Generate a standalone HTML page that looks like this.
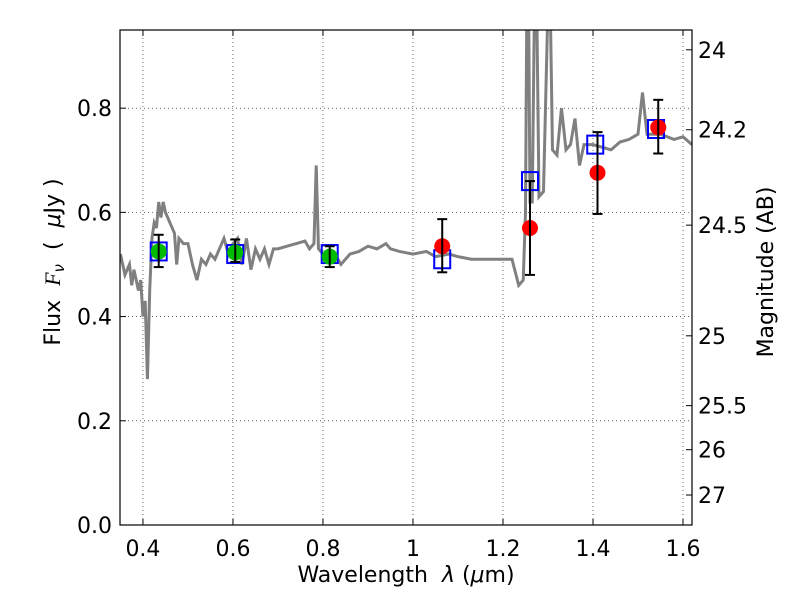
<!DOCTYPE html>
<html><head><meta charset="utf-8"><style>
body{margin:0;background:#fff;}
svg text{font-family:"DejaVu Sans","Liberation Sans",sans-serif;fill:#000;}
</style></head><body>
<svg id="chart" width="800" height="600" viewBox="0 0 800 600"></svg>
<script>
const xTicks=[0.4,0.6,0.8,1.0,1.2,1.4,1.6];
const xTickLabels=["0.4","0.6","0.8","1","1.2","1.4","1.6"];
const yTicks=[0,0.2,0.4,0.6,0.8];
const yTickLabels=["0.0","0.2","0.4","0.6","0.8"];
const magTicks=[24,24.2,24.5,25,25.5,26,27];
const magTickLabels=["24","24.2","24.5","25","25.5","26","27"];
const specLam=[0.35,0.36,0.37,0.375,0.38,0.39,0.395,0.40,0.405,0.41,0.415,0.42,0.425,0.43,0.435,0.44,0.445,0.45,0.46,0.47,0.475,0.48,0.49,0.50,0.51,0.52,0.53,0.54,0.55,0.56,0.57,0.58,0.59,0.60,0.61,0.62,0.63,0.64,0.65,0.66,0.67,0.68,0.69,0.70,0.72,0.74,0.76,0.77,0.78,0.785,0.79,0.80,0.83,0.84,0.86,0.88,0.90,0.92,0.94,0.95,0.97,1.0,1.03,1.05,1.08,1.1,1.13,1.15,1.18,1.2,1.22,1.235,1.245,1.25,1.253,1.257,1.26,1.265,1.27,1.275,1.28,1.29,1.30,1.305,1.31,1.32,1.33,1.34,1.35,1.36,1.37,1.38,1.40,1.42,1.44,1.46,1.48,1.50,1.51,1.52,1.55,1.58,1.60,1.62];
const specFlux=[0.52,0.48,0.50,0.46,0.49,0.45,0.47,0.40,0.43,0.28,0.45,0.55,0.58,0.57,0.62,0.59,0.62,0.60,0.58,0.56,0.50,0.55,0.54,0.54,0.50,0.47,0.51,0.50,0.52,0.51,0.53,0.55,0.52,0.54,0.55,0.50,0.55,0.49,0.53,0.51,0.53,0.50,0.53,0.53,0.535,0.54,0.545,0.53,0.54,0.69,0.53,0.52,0.515,0.50,0.52,0.525,0.535,0.53,0.54,0.53,0.525,0.52,0.525,0.515,0.52,0.515,0.51,0.51,0.51,0.51,0.51,0.46,0.47,0.6,1.0,1.0,0.62,0.62,1.0,1.0,0.63,0.64,1.0,1.0,0.72,0.71,0.80,0.72,0.73,0.78,0.69,0.73,0.73,0.725,0.72,0.735,0.74,0.75,0.83,0.75,0.75,0.74,0.745,0.73];
const modelLam=[0.435,0.605,0.815,1.065,1.26,1.405,1.54];
const modelFlux=[0.525,0.52,0.52,0.51,0.66,0.73,0.76];
const greenLam=[0.435,0.605,0.815];
const greenFlux=[0.525,0.523,0.515];
const greenLo=[0.495,0.505,0.495];
const greenHi=[0.557,0.548,0.535];
const redLam=[1.065,1.26,1.41,1.545];
const redFlux=[0.535,0.57,0.676,0.763];
const redLo=[0.485,0.48,0.597,0.713];
const redHi=[0.587,0.66,0.754,0.816];

const L=120,R=692,T=30,B=525,X0=0.349,X1=1.62,Y0=0,Y1=0.95;
const sx=v=>L+(v-X0)/(X1-X0)*(R-L);
const sy=v=>B-(v-Y0)/(Y1-Y0)*(B-T);
const magY=m=>sy(Math.pow(10,(23.9-m)/2.5));
const svg=document.getElementById('chart');
const NS='http://www.w3.org/2000/svg';
function mk(tag,attrs,parent){const e=document.createElementNS(NS,tag);for(const k in attrs)e.setAttribute(k,attrs[k]);(parent||svg).appendChild(e);return e;}
const defs=mk('defs',{});const cp=mk('clipPath',{id:'clip'},defs);mk('rect',{x:L,y:T,width:R-L,height:B-T},cp);

const grid=mk('g',{});


xTicks.forEach((v,i)=>{
  const l=mk('line',{x1:sx(v),x2:sx(v),y1:T,y2:B,stroke:'#000','stroke-width':0.6,'stroke-dasharray':'1,3'},grid);
  
  
  mk('line',{x1:sx(v),x2:sx(v),y1:B,y2:B-6,stroke:'#000'},grid);
  mk('line',{x1:sx(v),x2:sx(v),y1:T,y2:T+6,stroke:'#000'},grid);
  const t=mk('text',{x:sx(v),y:B+31,'font-size':22,'text-anchor':'middle'});
  t.textContent=xTickLabels[i];
  
  
});
yTicks.forEach((v,i)=>{
  const l=mk('line',{x1:L,x2:R,y1:sy(v),y2:sy(v),stroke:'#000','stroke-width':0.6,'stroke-dasharray':'1,3'},grid);
  
  
  mk('line',{x1:L,x2:L+6,y1:sy(v),y2:sy(v),stroke:'#000'},grid);
  const t=mk('text',{x:L-8,y:sy(v)+8,'font-size':22,'text-anchor':'end'});
  t.textContent=yTickLabels[i];
  
  
});
magTicks.forEach((m,i)=>{
  mk('line',{x1:R,x2:R-6,y1:magY(m),y2:magY(m),stroke:'#000'});
  const t=mk('text',{x:R+6,y:magY(m)+8,'font-size':22});
  t.textContent=magTickLabels[i];
  
  
});

const spec=mk('polyline',{points:specLam.map((v,i)=>sx(v)+','+sy(specFlux[i])).join(' '),fill:'none',stroke:'#808080','stroke-width':3,'clip-path':'url(#clip)'});



modelLam.forEach((v,i)=>{
  const r=mk('rect',{x:sx(v)-8,y:sy(modelFlux[i])-9,width:16,height:18,fill:'none',stroke:'#0000ff','stroke-width':2});
  
  
});
function pts(lam,fl,lo,hi,col,name){
  lam.forEach((v,i)=>{
    const g=mk('g',{});
    
    
    mk('circle',{cx:sx(v),cy:sy(fl[i]),r:8,fill:col},g);
    const x=sx(v);
    mk('line',{x1:x,x2:x,y1:sy(lo[i]),y2:sy(hi[i]),stroke:'#000','stroke-width':2},g);
    mk('line',{x1:x-5,x2:x+5,y1:sy(lo[i]),y2:sy(lo[i]),stroke:'#000','stroke-width':2},g);
    mk('line',{x1:x-5,x2:x+5,y1:sy(hi[i]),y2:sy(hi[i]),stroke:'#000','stroke-width':2},g);
  });
}
pts(greenLam,greenFlux,greenLo,greenHi,'#00bb00','optical-point');
pts(redLam,redFlux,redLo,redHi,'#ff0000','infrared-point');

const frame=mk('rect',{x:L,y:T,width:R-L,height:B-T,fill:'none',stroke:'#000','stroke-width':1.2});



let t=mk('text',{x:406,y:582,'font-size':22,'text-anchor':'middle'});
t.innerHTML='Wavelength\u00a0\u00a0<tspan font-style="italic">λ</tspan> (<tspan font-style="italic">μ</tspan>m)';


t=mk('text',{x:0,y:0,'font-size':22,'text-anchor':'middle',transform:'translate(60,262) rotate(-90)'});
t.innerHTML='Flux\u00a0\u00a0<tspan font-style="italic" font-family="Liberation Serif, serif">F</tspan><tspan font-style="italic" font-size="15" dy="4">ν</tspan><tspan dy="-4">\u00a0\u00a0(\u00a0\u00a0</tspan><tspan font-style="italic">μ</tspan>Jy\u00a0)';


t=mk('text',{x:0,y:0,'font-size':22,'text-anchor':'middle',transform:'translate(773,272) rotate(-90)'});
t.textContent='Magnitude (AB)';


</script>
</body></html>
